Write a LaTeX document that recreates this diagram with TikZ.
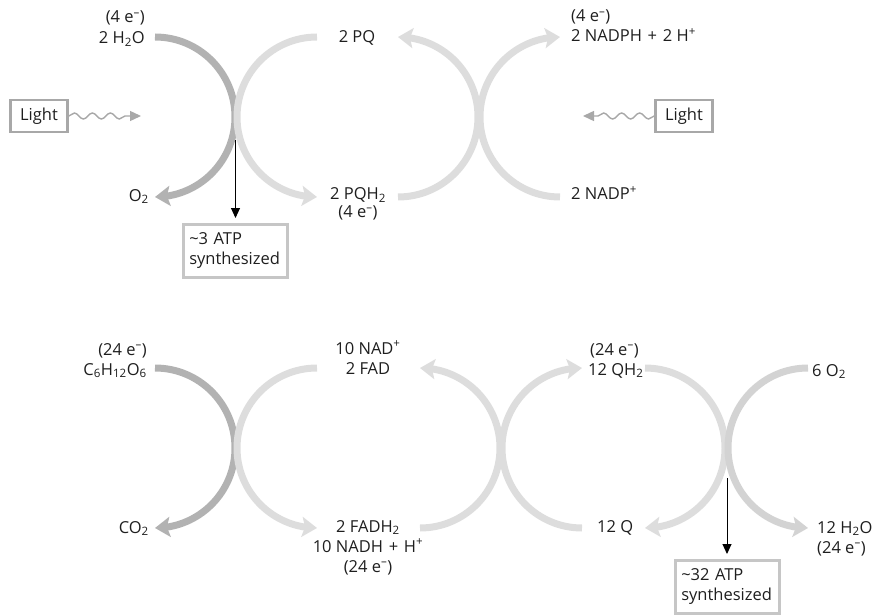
\documentclass[tikz,border=0pt]{standalone}
\usepackage{fontspec}
\setmainfont{Open Sans}
\usetikzlibrary{arrows.meta,bending,decorations.pathmorphing}
\definecolor{arcdark}{HTML}{B2B2B2}
\definecolor{arclight}{HTML}{DDDDDD}
\definecolor{arcmid}{HTML}{D3D3D3}
\definecolor{boxgray}{HTML}{A8A8A8}
\definecolor{atpgray}{HTML}{C6C6C6}
\definecolor{txt}{HTML}{1E1E1E}
\newcommand{\eminus}{e\textsuperscript{–}}
\newcommand{\plussp}{\hspace{0.35em}+\hspace{0.35em}}
\begin{document}
\begin{tikzpicture}[x=1pt,y=-1pt,
  lbl/.style={font=\fontsize{16.5}{20}\selectfont, inner sep=0pt, text=txt},
  bigarc/.style={line width=7pt, draw=#1, -{Stealth[length=15pt,width=20pt,inset=3pt,color=#1]}},
  lightbox/.style={draw=boxgray, line width=2.5pt, font=\fontsize{16.5}{20}\selectfont, text=txt,
    minimum width=57pt, minimum height=32pt, inner sep=0pt},
  atpbox/.style={draw=atpgray, line width=2.5pt, font=\fontsize{16.5}{20}\selectfont, text=txt,
    text width=92pt, align=left, inner xsep=6pt, inner ysep=0pt, minimum height=53pt, anchor=north west},
  wave/.style={draw=boxgray, line width=1.4pt,
    decoration={snake, amplitude=3pt, segment length=18pt, post length=9pt}, decorate,
    -{Triangle[length=11pt,width=10pt]}},
  blk/.style={draw=black, line width=1pt, shorten >=5pt, -{Triangle[length=10pt,width=9pt]}}
]
\useasboundingbox (0,0) rectangle (876,615);

% ---------- top row ----------
\coordinate (t1) at (155,37);
\coordinate (t2) at (317,37);
\coordinate (t3) at (398,197);
\coordinate (t4) at (560,197);
\draw[bigarc=arcdark]  (t1) arc[start angle=-90, end angle=90, radius=80];
\draw[bigarc=arclight] (t2) arc[start angle=-90, end angle=-270, radius=80];
\draw[bigarc=arclight] (t3) arc[start angle=90, end angle=-90, radius=80];
\draw[bigarc=arclight] (t4) arc[start angle=90, end angle=270, radius=80];

\node[lbl, anchor=base east] (h2oe) at (145,23) {(4 \eminus)};
\node[lbl, anchor=base east] (h2o) at (145,44) {2 H\textsubscript{2}O};
\node[lbl, anchor=base] (pq) at (357,43) {2 PQ};
\node[lbl, anchor=base west] (nadphe) at (571,22) {(4 \eminus)};
\node[lbl, anchor=base west] (nadph) at (571,42) {2 NADPH\plussp 2 H\textsuperscript{+}};
\node[lbl, anchor=base east] (o2) at (149,201) {O\textsubscript{2}};
\node[lbl, anchor=base] (pqh2) at (358,200) {2 PQH\textsubscript{2}};
\node[lbl, anchor=base] (pqh2e) at (358,218) {(4 \eminus)};
\node[lbl, anchor=base west] (nadp) at (571,200) {2 NADP\textsuperscript{+}};

\node[lightbox] (light1) at (39,116) {Light};
\node[lightbox] (light2) at (684,116) {Light};
\coordinate (w1) at (141,116);
\coordinate (w2) at (583,116);
\draw[wave] (light1.east) -- (w1);
\draw[wave] (light2.west) -- (w2);

\node[atpbox] (atp1) at (182,223) {\textasciitilde3 ATP\\synthesized};
\coordinate (s1) at (235.5,140);
\draw[blk] (s1) -- (s1 |- atp1.north);

% ---------- bottom row ----------
\coordinate (b1) at (155,368);
\coordinate (b2) at (317,368);
\coordinate (b3) at (420,528);
\coordinate (b4) at (582,528);
\coordinate (b5) at (645,368);
\coordinate (b6) at (808,368);
\draw[bigarc=arcdark]  (b1) arc[start angle=-90, end angle=90, radius=80];
\draw[bigarc=arclight] (b2) arc[start angle=-90, end angle=-270, radius=80];
\draw[bigarc=arclight] (b3) arc[start angle=90, end angle=-90, radius=80];
\draw[bigarc=arclight] (b4) arc[start angle=90, end angle=270, radius=80];
\draw[bigarc=arclight] (b5) arc[start angle=-90, end angle=90, radius=80];
\draw[bigarc=arcmid]   (b6) arc[start angle=-90, end angle=-270, radius=80];

\node[lbl, anchor=base east] (glce) at (147,355) {(24 \eminus)};
\node[lbl, anchor=base east] (glc) at (147,375) {C\textsubscript{6}H\textsubscript{12}O\textsubscript{6}};
\node[lbl, anchor=base] (nad) at (368,354) {10 NAD\textsuperscript{+}};
\node[lbl, anchor=base] (fad) at (368,374) {2 FAD};
\node[lbl, anchor=base west] (qh2e) at (590,355) {(24 \eminus)};
\node[lbl, anchor=base west] (qh2) at (588,375) {12 QH\textsubscript{2}};
\node[lbl, anchor=base west] (o2b) at (812,376) {6 O\textsubscript{2}};
\node[lbl, anchor=base east] (co2) at (149,533) {CO\textsubscript{2}};
\node[lbl, anchor=base] (fadh) at (368,532) {2 FADH\textsubscript{2}};
\node[lbl, anchor=base] (nadh) at (368,552) {10 NADH\plussp H\textsuperscript{+}};
\node[lbl, anchor=base] (nadhe) at (368,572) {(24 \eminus)};
\node[lbl, anchor=base west] (q) at (597,532) {12 Q};
\node[lbl, anchor=base west] (h2ob) at (817,533) {12 H\textsubscript{2}O};
\node[lbl, anchor=base west] (h2obe) at (817,553) {(24 \eminus)};

\node[atpbox] (atp2) at (674,559) {\textasciitilde32 ATP\\synthesized};
\coordinate (s2) at (727,478);
\draw[blk] (s2) -- (s2 |- atp2.north);
\end{tikzpicture}
\end{document}
